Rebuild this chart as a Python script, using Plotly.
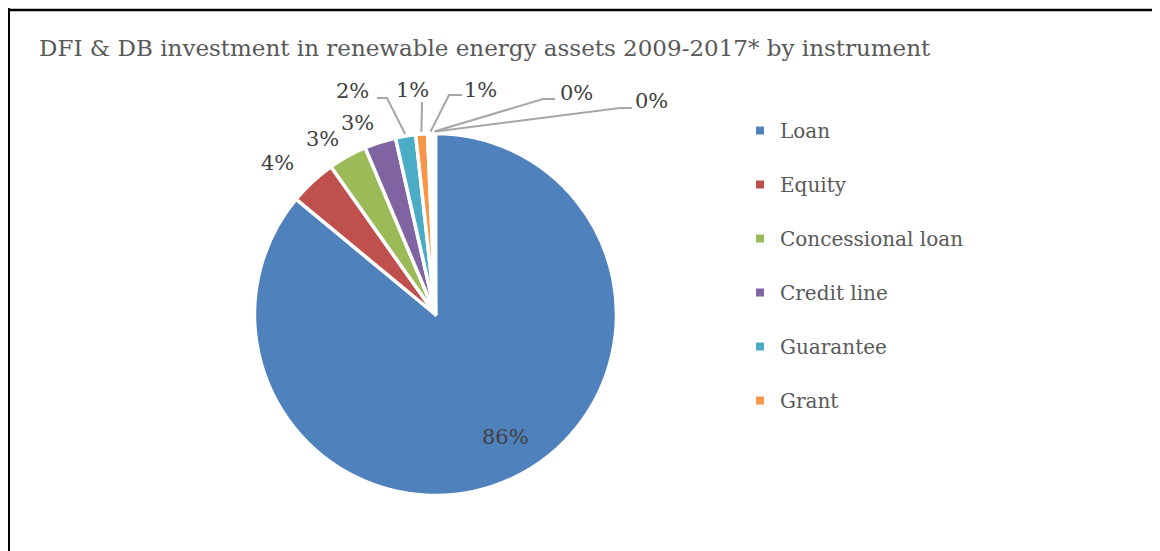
import math
import plotly.graph_objects as go

# ---- data ----
categories = ["Loan", "Equity", "Concessional loan", "Credit line", "Guarantee",
              "Grant", "Other", "Mezzanine", "Bond"]
shares = [86.0, 4.2, 3.45, 2.8, 1.8, 1.05, 0.55, 0.1, 0.05]
legend_items = ["Loan", "Equity", "Concessional loan", "Credit line", "Guarantee", "Grant"]
title_text = "DFI & DB investment in renewable energy assets 2009-2017* by instrument"

# ---- style ----
PAGE_OFF = 8                # browser body margin
W, H = 1152, 543            # figure size
colors = ["#4F81BD", "#C0504D", "#9BBB59", "#8064A2", "#4BACC6", "#F79646",
          "#FFFFFF", "#FFFFFF", "#FFFFFF"]
FONT = "DejaVu Serif"
CX, CY, R = 435.5, 314.5, 181.0  # pie centre / radius in window pixels (layout)

# label positions (window pixels, centre of text) for all slices
label_pos = [(505, 437), (277, 163), (322, 139), (357, 123), (352, 91), (412, 90),
             (480, 90), (576, 93), (651, 101)]
# leader line start point (window pixels) and elbow offset; None = no line
leader = [None, None, None, None, ((377, 98), 10), ((422, 102), 0),
          ((462, 95), -13), ((555, 99), -12), ((632, 108), -12)]

def px(x):
    return (x - PAGE_OFF) / W

def py(y):
    return 1 - (y - PAGE_OFF) / H

fig = go.Figure()

fig.add_trace(go.Pie(
    labels=categories, values=shares, sort=False, direction="clockwise",
    rotation=0, marker=dict(colors=colors, line=dict(color="white", width=3.5)),
    textinfo="none",
    domain=dict(x=[px(CX - R), px(CX + R)], y=[py(CY + R), py(CY - R)]),
    showlegend=False, hoverinfo="label+percent",
))

# legend entries (only the first six categories appear in the reference legend)
for name in legend_items:
    fig.add_trace(go.Scatter(
        x=[None], y=[None], mode="markers", name=name, legendgroup=name,
        marker=dict(symbol="square", size=8, color=colors[categories.index(name)]),
    ))

# data labels + leader lines, anchored to slice mid-angles computed from data
total = sum(shares)
annotations = []
shapes = []
cum = 0.0
mids = []
for v in shares:
    mids.append((cum + v / 2) / total * 2 * math.pi)
    cum += v
for i in range(len(shares)):
    pct = round(shares[i] / total * 100)
    lx, ly = label_pos[i]
    annotations.append(dict(
        x=px(lx), y=py(ly), xref="paper", yref="paper", text=f"{pct}%",
        showarrow=False, font=dict(family=FONT, size=21, color="#404040"),
        xanchor="center", yanchor="middle",
    ))
    if leader[i] is not None:
        (sx, sy), elbow = leader[i]
        ax = CX + (R + 2) * math.sin(mids[i])
        ay = CY - (R + 2) * math.cos(mids[i])
        ex = sx + elbow
        path = f"M {px(sx)} {py(sy)} L {px(ex)} {py(sy)} L {px(ax)} {py(ay)}"
        shapes.append(dict(type="path", path=path, xref="paper", yref="paper",
                           line=dict(color="#A6A6A6", width=2)))

# frame lines
shapes.append(dict(type="line", xref="paper", yref="paper", x0=px(8), x1=px(1160),
                   y0=py(10), y1=py(10), line=dict(color="black", width=2.5)))
shapes.append(dict(type="line", xref="paper", yref="paper", x0=px(9), x1=px(9),
                   y0=py(8), y1=py(551), line=dict(color="black", width=2)))

annotations.append(dict(
    x=px(37), y=py(48), xref="paper", yref="paper", text=title_text,
    showarrow=False, xanchor="left", yanchor="middle",
    font=dict(family=FONT, size=23, color="#595959"),
))

fig.update_layout(
    width=W, height=H, margin=dict(l=0, r=0, t=0, b=0),
    paper_bgcolor="white", plot_bgcolor="white",
    xaxis=dict(visible=False), yaxis=dict(visible=False),
    annotations=annotations, shapes=shapes,
    legend=dict(x=px(740), y=py(111), xanchor="left", yanchor="top",
                font=dict(family=FONT, size=20, color="#595959"),
                tracegroupgap=25, traceorder="grouped", bgcolor="rgba(0,0,0,0)"),
)

fig.write_html("out.html", config={"displayModeBar": False},
               post_script="document.body.style.overflow='hidden';")
